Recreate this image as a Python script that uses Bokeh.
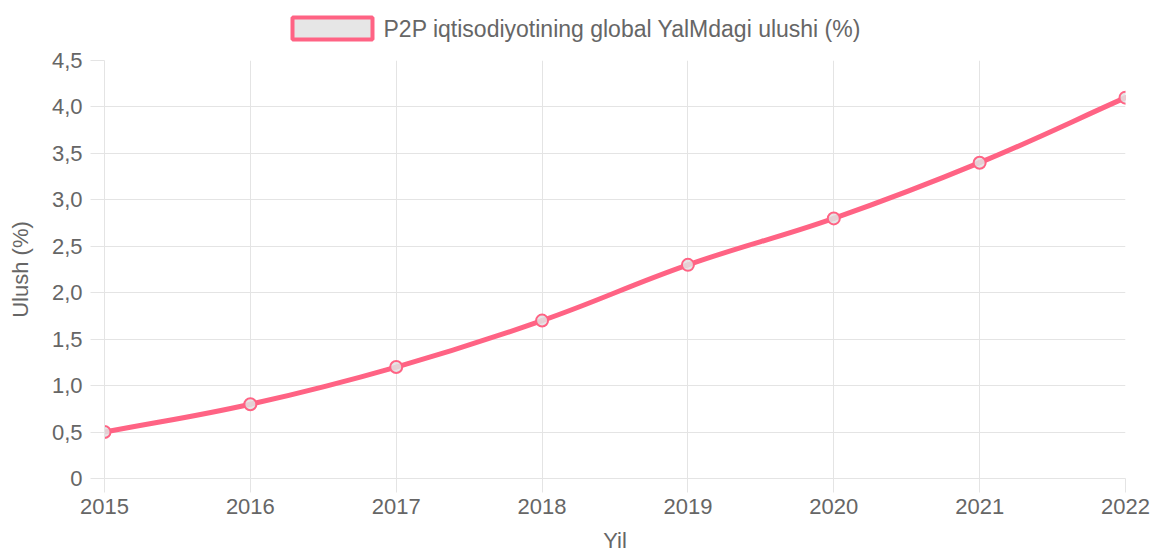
import math
from bokeh.plotting import figure
from bokeh.layouts import column
from bokeh.models import (ColumnDataSource, FixedTicker, CustomJSTickFormatter,
                          Range1d)
from bokeh.core.properties import value
from bokeh.embed import file_html
from bokeh.resources import INLINE

# ---- data ----
years = [2015, 2016, 2017, 2018, 2019, 2020, 2021, 2022]
share = [0.5, 0.8, 1.2, 1.7, 2.3, 2.8, 3.4, 4.1]
y_ticks = [0, 0.5, 1.0, 1.5, 2.0, 2.5, 3.0, 3.5, 4.0, 4.5]
series_label = "P2P iqtisodiyotining global YalMdagi ulushi (%)"
x_title = "Yil"
y_title = "Ulush (%)"

# ---- style ----
PINK = "#ff6384"
GRID = "#e4e4e4"
TXT = "#666666"
FONT = "Liberation Sans"
W = 1153
HH = 44            # legend strip height
H = 516            # main plot height
ML, MR, MT, MB = 104, 28, 16, 82
X0, X1 = years[0], years[-1]
Y0, Y1 = 0, 4.5
TENSION = 0.4
FH = H - MT - MB

# ---- legend strip (coordinates = page pixels) ----
lg = figure(width=W, height=HH, output_backend="svg", toolbar_location=None,
            x_range=Range1d(ML, W - MR), y_range=Range1d(0, HH),
            min_border_left=ML, min_border_right=MR,
            min_border_top=0, min_border_bottom=0,
            x_axis_type=None, y_axis_type=None)
lg.outline_line_color = None
lg.grid.visible = False
lg.border_fill_color = "white"
lg.background_fill_color = "white"
lg.quad(left=[292], right=[372], top=[HH - 17], bottom=[HH - 39],
        fill_color="#e6e6e6", line_color=PINK, line_width=4)
lg.text(x=[383], y=[HH - 28], text=[series_label],
        text_font=value(FONT), text_font_size="23px", text_color=TXT,
        text_baseline="middle", text_align="left")

# ---- main plot ----
p = figure(width=W, height=H, output_backend="svg", toolbar_location=None,
           x_range=(X0, X1), y_range=(Y0, Y1),
           min_border_left=ML, min_border_right=MR,
           min_border_top=MT, min_border_bottom=MB)
p.outline_line_color = None
p.background_fill_color = "white"
p.border_fill_color = "white"

# smooth line (Chart.js style spline, computed in pixel space)
kx = (W - ML - MR) / (X1 - X0)
ky = FH / (Y1 - Y0)
px = [(x - X0) * kx for x in years]
py = [(y - Y0) * ky for y in share]
n = len(years)
cp_prev, cp_next = [], []
for i in range(n):
    a = max(i - 1, 0)
    c = min(i + 1, n - 1)
    d01 = math.hypot(px[i] - px[a], py[i] - py[a])
    d12 = math.hypot(px[c] - px[i], py[c] - py[i])
    tot = d01 + d12
    s01 = d01 / tot if tot else 0
    s12 = d12 / tot if tot else 0
    fa, fb = TENSION * s01, TENSION * s12
    dx, dy = px[c] - px[a], py[c] - py[a]
    cp_prev.append((px[i] - fa * dx, py[i] - fa * dy))
    cp_next.append((px[i] + fb * dx, py[i] + fb * dy))

def tx(v):
    return X0 + v / kx

def ty(v):
    return Y0 + v / ky

bez = ColumnDataSource(dict(
    x0=years[:-1], y0=share[:-1], x1=years[1:], y1=share[1:],
    cx0=[tx(cp_next[i][0]) for i in range(n - 1)],
    cy0=[ty(cp_next[i][1]) for i in range(n - 1)],
    cx1=[tx(cp_prev[i + 1][0]) for i in range(n - 1)],
    cy1=[ty(cp_prev[i + 1][1]) for i in range(n - 1)],
))
p.bezier(x0="x0", y0="y0", x1="x1", y1="y1", cx0="cx0", cy0="cy0",
         cx1="cx1", cy1="cy1", source=bez, line_color=PINK, line_width=5,
         line_cap="round")

pts = ColumnDataSource(dict(x=years, y=share))
p.scatter("x", "y", source=pts, size=12, marker="circle", line_color=PINK,
          line_width=2, fill_color="#e2e2e2", fill_alpha=0.85)

# axes
p.xaxis.ticker = FixedTicker(ticks=years)
p.xaxis.formatter = CustomJSTickFormatter(code="return tick.toFixed(0);")
p.yaxis.ticker = FixedTicker(ticks=y_ticks)
p.yaxis.formatter = CustomJSTickFormatter(
    code="return tick == 0 ? '0' : tick.toFixed(1).replace('.', ',');")
p.xgrid.ticker = FixedTicker(ticks=years)
p.ygrid.ticker = FixedTicker(ticks=y_ticks)
for g in (p.xgrid, p.ygrid):
    g.grid_line_color = GRID
    g.grid_line_width = 1

for ax in (p.xaxis, p.yaxis):
    ax.axis_line_color = GRID
    ax.major_tick_line_color = GRID
    ax.major_tick_out = 14
    ax.major_tick_in = 0
    ax.minor_tick_line_color = None
    ax.major_label_text_font = FONT
    ax.major_label_text_font_size = "22px"
    ax.major_label_text_color = TXT
    ax.axis_label_text_font = FONT
    ax.axis_label_text_font_size = "22px"
    ax.axis_label_text_color = TXT
    ax.axis_label_text_font_style = "normal"

p.xaxis.axis_label = x_title
p.yaxis.axis_label = y_title
p.xaxis.major_label_standoff = 6
p.yaxis.major_label_standoff = 8
p.xaxis.axis_label_standoff = 11
p.yaxis.axis_label_standoff = 16

layout = column(lg, p, spacing=0)
open("out.html", "w").write(file_html(layout, INLINE))
